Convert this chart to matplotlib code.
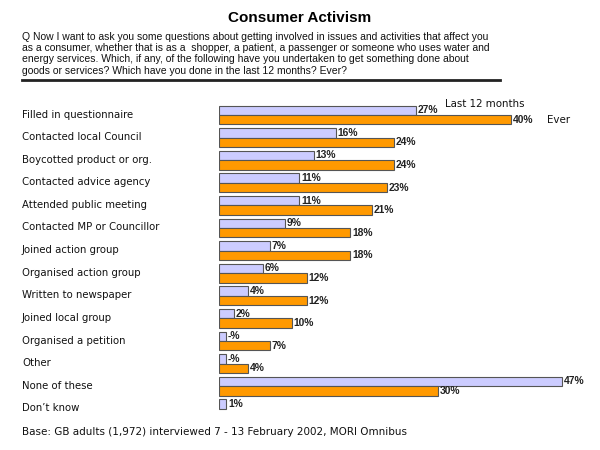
import matplotlib
matplotlib.use("Agg")
import matplotlib.pyplot as plt

categories = ["Filled in questionnaire", "Contacted local Council", "Boycotted product or org.",
              "Contacted advice agency", "Attended public meeting", "Contacted MP or Councillor",
              "Joined action group", "Organised action group", "Written to newspaper",
              "Joined local group", "Organised a petition", "Other", "None of these", "Don\u2019t know"]
last12 = [27, 16, 13, 11, 11, 9, 7, 6, 4, 2, None, None, 47, 1]
ever = [40, 24, 24, 23, 21, 18, 18, 12, 12, 10, 7, 4, 30, None]
series_names = ["Last 12 months", "Ever"]

title = "Consumer Activism"
question = ("Q Now I want to ask you some questions about getting involved in issues and activities that affect you\n"
            "as a consumer, whether that is as a  shopper, a patient, a passenger or someone who uses water and\n"
            "energy services. Which, if any, of the following have you undertaken to get something done about\n"
            "goods or services? Which have you done in the last 12 months? Ever?")
footer = "Base: GB adults (1,972) interviewed 7 - 13 February 2002, MORI Omnibus"

W, H = 600, 450
plt.rcParams['font.family'] = ['Liberation Sans', 'DejaVu Sans']
fig = plt.figure(figsize=(6, 4.5), dpi=100)
fig.patch.set_facecolor("white")

def fx(px):
    return px / W

def fy(py):
    return 1 - py / H

VERD = ['DejaVu Sans']

# axes in pixel layout
row0, step = 115.0, 22.6
ax_top, ax_bot = 93.0, 420.0
ax_left, ax_right = 219.0, 600.0
ax = fig.add_axes([fx(ax_left), fy(ax_bot), (ax_right - ax_left) / W, (ax_bot - ax_top) / H])
ax.set_xlim(0, (ax_right - ax_left) / 7.3)
ax.set_ylim((ax_bot - row0) / step, (ax_top - row0) / step)
ax.axis("off")

c_last, c_ever = "#CCCCFF", "#FF9900"
edge = "#555555"
bh = 0.42
for i, (a, b) in enumerate(zip(last12, ever)):
    wa = a if a is not None else 1
    ax.barh(i - bh / 2, wa, height=bh, color=c_last, edgecolor=edge, linewidth=0.8)
    ax.text(wa + 0.25, i - bh / 2, f"{a}%" if a is not None else "-%", va="center", ha="left",
            fontsize=7.4, fontweight="bold", color="#222222")
    if b is not None:
        ax.barh(i + bh / 2, b, height=bh, color=c_ever, edgecolor=edge, linewidth=0.8)
        ax.text(b + 0.25, i + bh / 2, f"{b}%", va="center", ha="left",
                fontsize=7.4, fontweight="bold", color="#222222")
    fig.text(fx(22), fy(row0 + step * i - 0.5), categories[i], fontsize=7.25, family=VERD,
             va="center", ha="left", color="#111111")

# legend-like labels
fig.text(fx(445), fy(104), series_names[0], fontsize=7.4, family=VERD, va="center", ha="left", color="#111111")
fig.text(fx(547), fy(120), series_names[1], fontsize=7.4, family=VERD, va="center", ha="left", color="#111111")

fig.text(0.5, fy(18), title, fontsize=11, fontweight="bold", ha="center", va="center")
fig.text(fx(22), fy(32), question, fontsize=7.45, ha="left", va="top", linespacing=1.15, color="#111111")
fig.add_artist(plt.Line2D([fx(22), fx(500)], [fy(80), fy(80)], color="#222222", linewidth=2))
fig.text(fx(22), fy(432), footer, fontsize=7.5, family=VERD, ha="left", va="center", color="#111111")

fig.savefig("out.png", dpi=100)
